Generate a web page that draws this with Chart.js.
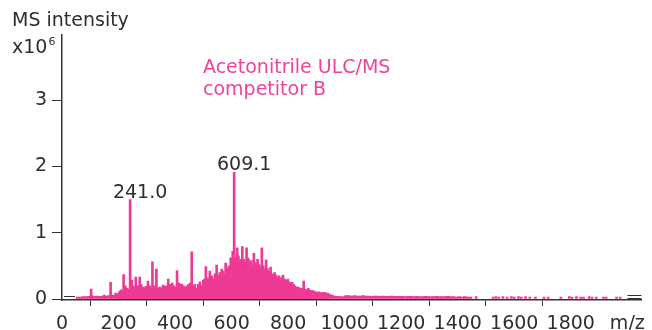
<!DOCTYPE html>
<html>
<head>
<meta charset="utf-8">
<script src="https://cdn.jsdelivr.net/npm/chart.js@4/dist/chart.umd.min.js"></script>
<style>
  html, body { margin: 0; padding: 0; background: #ffffff; }
  #wrap { width: 652px; height: 330px; }
</style>
</head>
<body>
<div id="wrap"><canvas id="c" width="652" height="330"></canvas></div>
<script>
// ---- data (intensity in units of 10^6) ----
// dense background envelope, 10 m/z bins
const envelopeMz = [
  55,65,75,85,95,105,115,125,135,145,155,165,175,185,195,205,215,225,235,245,
  255,265,275,285,295,305,315,325,335,345,355,365,375,385,395,405,415,425,435,445,
  455,465,475,485,495,505,515,525,535,545,555,565,575,585,595,605,615,625,635,645,
  655,665,675,685,695,705,715,725,735,745,755,765,775,785,795,805,815,825,835,845,
  855,865,875,885,895,905,915,925,935,945,955,965,975,985,995,
  1005,1015,1025,1035,1045,1055,1065,1075,1085,1095,1105,1115,1125,1135,1145,1155,1165,1175,1185,1195,
  1205,1215,1225,1235,1245,1255,1265,1275,1285,1295,1305,1315,1325,1335,1345,1355,1365,1375,1385,1395,
  1405,1415,1425,1435,1445
];
const envelope = [
  0.03,0.03,0.035,0.035,0.04,0.05,0.04,0.045,0.04,0.045,0.04,0.05,0.06,0.06,0.07,0.09,0.10,0.12,0.11,0.14,
  0.13,0.15,0.12,0.13,0.11,0.14,0.12,0.13,0.12,0.10,0.13,0.12,0.15,0.14,0.13,0.16,0.15,0.14,0.13,0.15,
  0.17,0.14,0.15,0.18,0.20,0.21,0.20,0.24,0.25,0.27,0.28,0.30,0.32,0.36,0.40,0.45,0.48,0.47,0.45,0.48,
  0.44,0.42,0.45,0.42,0.40,0.41,0.38,0.36,0.33,0.30,0.28,0.27,0.25,0.24,0.22,0.20,0.18,0.16,0.14,0.13,
  0.12,0.11,0.10,0.10,0.09,0.09,0.08,0.085,0.08,0.07,0.06,0.045,0.04,0.035,0.035,
  0.05,0.05,0.045,0.05,0.045,0.045,0.05,0.045,0.045,0.04,0.045,0.045,0.04,0.045,0.04,0.04,0.045,0.04,0.04,0.04,
  0.04,0.035,0.04,0.04,0.035,0.04,0.035,0.035,0.04,0.035,0.035,0.035,0.04,0.035,0.035,0.035,0.04,0.035,0.035,0.03,
  0.035,0.03,0.035,0.03,0.03
];
// minor peaks filling the dense region
const minorMz = [
  150,190,196,210,224,236,252,256,270,280,291,296,310,314,327,340,350,362,368,381,
  396,400,412,424,430,442,448,454,465,470,482,488,500,504,515,518,530,536,541,552,
  558,570,574,584,590,593,600,607,615,624,628,643,648,657,665,670,674,684,688,697,
  702,712,716,727,732,744,748,757,762,772,777,787,793,804,809,819,824,835,840,848,
  860,866,878,885,892,900,910,920,930,940
];
const minorInt = [
  0.06,0.09,0.08,0.14,0.20,0.15,0.20,0.17,0.20,0.22,0.16,0.19,0.20,0.17,0.20,0.16,0.17,0.19,0.20,0.22,
  0.20,0.18,0.24,0.22,0.20,0.20,0.22,0.24,0.20,0.22,0.22,0.26,0.28,0.30,0.32,0.28,0.35,0.30,0.38,0.35,
  0.40,0.42,0.38,0.46,0.50,0.44,0.55,0.58,0.62,0.65,0.55,0.60,0.55,0.62,0.55,0.58,0.50,0.55,0.50,0.52,
  0.48,0.50,0.45,0.46,0.42,0.38,0.35,0.36,0.32,0.30,0.33,0.30,0.28,0.26,0.24,0.22,0.20,0.18,0.17,0.16,
  0.15,0.14,0.13,0.13,0.12,0.11,0.11,0.10,0.10,0.09
];
// sparse noise at high m/z
const tailMz = [1465,1525,1535,1545,1560,1575,1590,1600,1615,1625,1640,1655,1675,1705,1720,1765,1795,1805,1820,1835,1845,1865,1875,1890,1915,1925,1962,1975];
const tail   = [0.035,0.03,0.035,0.03,0.035,0.03,0.035,0.03,0.035,0.03,0.035,0.03,0.03,0.03,0.03,0.03,0.035,0.03,0.035,0.03,0.03,0.035,0.03,0.03,0.03,0.03,0.03,0.03];
// individual major peaks
const peakMz = [
  103,172,204,218,230,241.0,247,261,265,275,286,304,320,334,345,357,376,390,407,418,
  436,459,476,494,509,523,547,565,579,597,604,609.1,620,632,638,653,660,679,692,707,
  722,738,752,767,782,799,814,830,855,872
];
const peakInt = [
  0.15,0.25,0.12,0.37,0.16,1.50,0.28,0.33,0.19,0.33,0.18,0.27,0.56,0.45,0.18,0.21,0.30,0.24,0.43,0.23,
  0.18,0.71,0.16,0.20,0.49,0.42,0.51,0.45,0.54,0.62,0.72,1.91,0.77,0.60,0.79,0.77,0.60,0.69,0.60,0.77,
  0.59,0.48,0.40,0.35,0.36,0.30,0.25,0.18,0.27,0.16
];
const labelledPeaks = ['241.0', '609.1'];
const yTicks = [0, 1, 2, 3];
const xTicks = [0, 200, 400, 600, 800, 1000, 1200, 1400, 1600, 1800];

const PINK = '#EE3A94';
const INK = '#2e2e2e';
const FONT = '"DejaVu Sans", Verdana, sans-serif';
const FS = 19;

const toPts = (xs, ys) => xs.map((x, i) => ({ x: x, y: ys[i] }));

const annot = {
  id: 'annot',
  afterDraw(chart) {
    const { ctx, scales: { x, y }, chartArea } = chart;
    ctx.save();
    ctx.fillStyle = INK;
    ctx.font = FS + 'px ' + FONT;
    ctx.textAlign = 'left';
    ctx.textBaseline = 'alphabetic';
    ctx.fillText('MS intensity', 12, 26);
    ctx.fillText('x10', 12, 53);
    const w = ctx.measureText('x10').width;
    ctx.font = '11px ' + FONT;
    ctx.fillText('6', 12 + w + 1, 45);
    ctx.font = FS + 'px ' + FONT;
    // peak labels
    ctx.textAlign = 'center';
    labelledPeaks.forEach(lbl => {
      const v = parseFloat(lbl);
      const i = peakMz.indexOf(v);
      const px = x.getPixelForValue(v);
      const py = y.getPixelForValue(peakInt[i]);
      ctx.fillText(lbl, px + 10, py - 2);
    });
    // sample label
    ctx.fillStyle = '#F0429C';
    ctx.textAlign = 'left';
    ctx.fillText('Acetonitrile ULC/MS', 203, 73);
    ctx.fillText('competitor B', 203, 95);
    // zero-level marks
    const y0 = y.getPixelForValue(0);
    ctx.strokeStyle = '#333';
    ctx.lineWidth = 1;
    ctx.beginPath();
    ctx.moveTo(chartArea.left + 2, Math.round(y0 - 3) + 0.5);
    ctx.lineTo(chartArea.left + 13, Math.round(y0 - 3) + 0.5);
    ctx.moveTo(chartArea.right - 14, Math.round(y0 - 4) + 0.5);
    ctx.lineTo(chartArea.right, Math.round(y0 - 4) + 0.5);
    ctx.moveTo(chartArea.right - 14, Math.round(y0 - 1) + 0.5);
    ctx.lineTo(chartArea.right, Math.round(y0 - 1) + 0.5);
    ctx.stroke();
    ctx.restore();
  }
};

new Chart(document.getElementById('c'), {
  type: 'bar',
  data: {
    datasets: [
      { data: toPts(envelopeMz, envelope), backgroundColor: PINK, barThickness: 3, grouped: false, order: 3 },
      { data: toPts(tailMz, tail), backgroundColor: PINK, barThickness: 2, grouped: false, order: 4 },
      { data: toPts(minorMz, minorInt), backgroundColor: PINK, barThickness: 2, grouped: false, order: 2 },
      { data: toPts(peakMz, peakInt), backgroundColor: PINK, barThickness: 2, grouped: false, order: 1 }
    ]
  },
  options: {
    responsive: false,
    animation: false,
    devicePixelRatio: 1,
    layout: { padding: { top: 35, right: 10, left: 0, bottom: 0 } },
    plugins: { legend: { display: false }, tooltip: { enabled: false }, title: { display: false } },
    scales: {
      x: {
        type: 'linear',
        min: 0,
        max: 2050,
        offset: false,
        afterFit(s) { s.height = 30; },
        afterBuildTicks(s) { s.ticks = xTicks.concat([2000]).map(v => ({ value: v })); },
        ticks: {
          includeBounds: false,
          autoSkip: false,
          maxRotation: 0,
          color: INK,
          font: { family: FONT, size: FS },
          padding: 7,
          callback: v => (v === 2000 ? 'm/z' : String(v))
        },
        grid: {
          drawOnChartArea: false,
          drawTicks: true,
          tickLength: 6,
          tickColor: c => (c.tick && c.tick.value === 2000 ? 'rgba(0,0,0,0)' : '#333')
        },
        border: { display: true, color: '#333', width: 1.5 }
      },
      y: {
        min: -0.015,
        max: 3.98,
        afterFit(s) { s.width = 62; },
        afterBuildTicks(s) { s.ticks = yTicks.map(v => ({ value: v })); },
        ticks: {
          includeBounds: false,
          color: INK,
          font: { family: FONT, size: FS },
          padding: 5
        },
        grid: { drawOnChartArea: false, drawTicks: true, tickLength: 10, tickColor: '#333' },
        border: { display: true, color: '#333', width: 1.5 }
      }
    }
  },
  plugins: [annot]
});
</script>
</body>
</html>
